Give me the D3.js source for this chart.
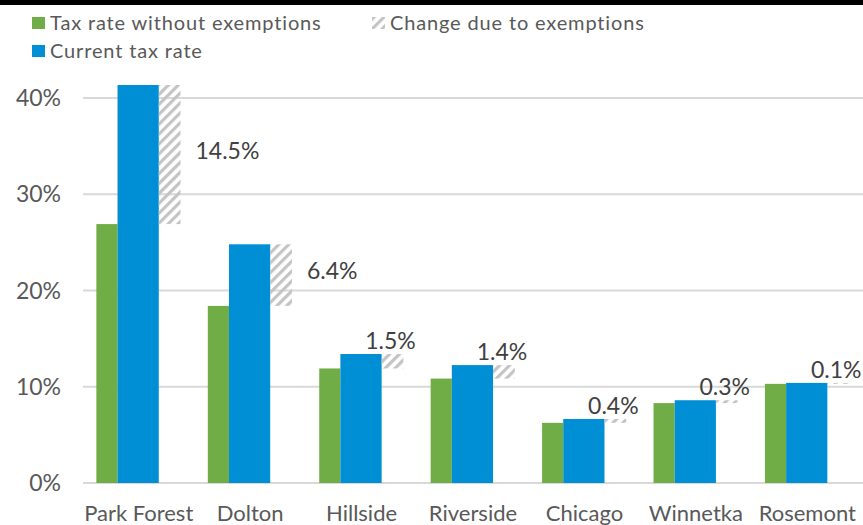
<!DOCTYPE html>
<html>
<head>
<meta charset="utf-8">
<script src="https://cdn.jsdelivr.net/npm/d3@7"></script>
<style>
  body { margin: 0; background: #fff; }
  text { font-family: Lato, "Open Sans", sans-serif; }
</style>
</head>
<body>
<div id="chart"></div>
<script>
var towns = ['Park Forest', 'Dolton', 'Hillside', 'Riverside', 'Chicago', 'Winnetka', 'Rosemont'];
var withoutExemptions = [26.9, 18.4, 11.9, 10.85, 6.25, 8.3, 10.3];
var currentRate = [41.35, 24.8, 13.4, 12.25, 6.65, 8.6, 10.4];
var changeLabels = ['14.5%', '6.4%', '1.5%', '1.4%', '0.4%', '0.3%', '0.1%'];
var yTicks = [0, 10, 20, 30, 40];

var colors = { green: '#70AD47', blue: '#008FD5', hatch: '#C4C4C4', grid: '#D9D9D9', axis: '#595959', label: '#404040' };

var svgWidth = 863, svgHeight = 525;

var svg = d3.select('#chart').append('svg')
	.attr('width', svgWidth)
	.attr('height', svgHeight);

// stripes for the "change" bars
var defs = svg.append('defs');
defs.append('pattern')
	.attr('id', 'hatch')
	.attr('patternUnits', 'userSpaceOnUse')
	.attr('width', 7)
	.attr('height', 7)
	.attr('patternTransform', 'rotate(45)')
	.append('rect')
	.attr('width', 3.2)
	.attr('height', 7)
	.attr('fill', colors.hatch);

// black strip along the top
svg.append('rect')
	.attr('x', 0).attr('y', 0)
	.attr('width', svgWidth).attr('height', 5)
	.attr('fill', '#000');

var x = d3.scaleBand()
	.domain(towns)
	.range([83, 863])
	.padding(0);

var y = d3.scaleLinear()
	.domain([0, 40])
	.range([483, 98]);

var bw = x.bandwidth();
// offsets inside each band (fractions of band width)
var greenX0 = 0.12, blueX0 = 0.31, hatchX0 = 0.68, hatchX1 = 0.875;

// gridlines + tick labels
var grid = svg.append('g');
grid.selectAll('line')
	.data(yTicks)
	.enter().append('line')
	.attr('x1', 83).attr('x2', 863)
	.attr('y1', function(d) { return y(d); })
	.attr('y2', function(d) { return y(d); })
	.attr('stroke', colors.grid)
	.attr('stroke-width', 2);

grid.selectAll('text')
	.data(yTicks)
	.enter().append('text')
	.attr('x', 61)
	.attr('y', function(d) { return y(d) + 8; })
	.attr('text-anchor', 'end')
	.attr('font-size', 23)
	.attr('fill', colors.axis)
	.text(function(d) { return d + '%'; });

var rows = towns.map(function(t, i) {
	return { town: t, green: withoutExemptions[i], blue: currentRate[i], label: changeLabels[i] };
});

var g = svg.selectAll('.town')
	.data(rows)
	.enter().append('g')
	.attr('class', 'town')
	.attr('transform', function(d) { return 'translate(' + x(d.town) + ',0)'; });

g.append('rect')
	.attr('x', bw * greenX0)
	.attr('width', bw * (blueX0 - greenX0))
	.attr('y', function(d) { return y(d.green); })
	.attr('height', function(d) { return y(0) - y(d.green); })
	.attr('fill', colors.green);

g.append('rect')
	.attr('x', bw * blueX0)
	.attr('width', bw * (hatchX0 - blueX0))
	.attr('y', function(d) { return y(d.blue); })
	.attr('height', function(d) { return y(0) - y(d.blue); })
	.attr('fill', colors.blue);

g.append('rect')
	.attr('x', bw * hatchX0)
	.attr('width', bw * (hatchX1 - hatchX0))
	.attr('y', function(d) { return y(d.blue); })
	.attr('height', function(d) { return y(d.green) - y(d.blue); })
	.attr('fill', 'url(#hatch)');

// change labels: beside tall hatches, above short ones
g.append('text')
	.attr('font-size', 23)
	.attr('fill', colors.label)
	.attr('text-anchor', function(d) {
		return (y(d.green) - y(d.blue)) > 40 ? 'start' : 'middle';
	})
	.attr('x', function(d) {
		return (y(d.green) - y(d.blue)) > 40 ? bw * hatchX1 + 15 : bw * (hatchX0 + hatchX1) / 2 - 2;
	})
	.attr('y', function(d) {
		var h = y(d.green) - y(d.blue);
		return h > 40 ? (y(d.green) + y(d.blue)) / 2 + 4 : y(d.blue) - 5;
	})
	.text(function(d) { return d.label; });

g.append('text')
	.attr('x', bw / 2)
	.attr('y', 521)
	.attr('text-anchor', 'middle')
	.attr('font-size', 22)
	.attr('fill', colors.axis)
	.text(function(d) { return d.town; });

// legend
var legend = [
	{ name: 'Tax rate without exemptions', fill: colors.green, x: 32, y: 17 },
	{ name: 'Change due to exemptions', fill: 'url(#hatch)', x: 372, y: 17 },
	{ name: 'Current tax rate', fill: colors.blue, x: 32, y: 45 }
];
var lg = svg.selectAll('.legend')
	.data(legend)
	.enter().append('g')
	.attr('class', 'legend')
	.attr('transform', function(d) { return 'translate(' + d.x + ',' + d.y + ')'; });
lg.append('rect')
	.attr('width', 13).attr('height', 12)
	.attr('fill', function(d) { return d.fill; });
lg.append('text')
	.attr('x', 18)
	.attr('y', 13)
	.attr('font-size', 20)
	.attr('letter-spacing', 0.85)
	.attr('fill', colors.axis)
	.text(function(d) { return d.name; });
</script>
</body>
</html>
